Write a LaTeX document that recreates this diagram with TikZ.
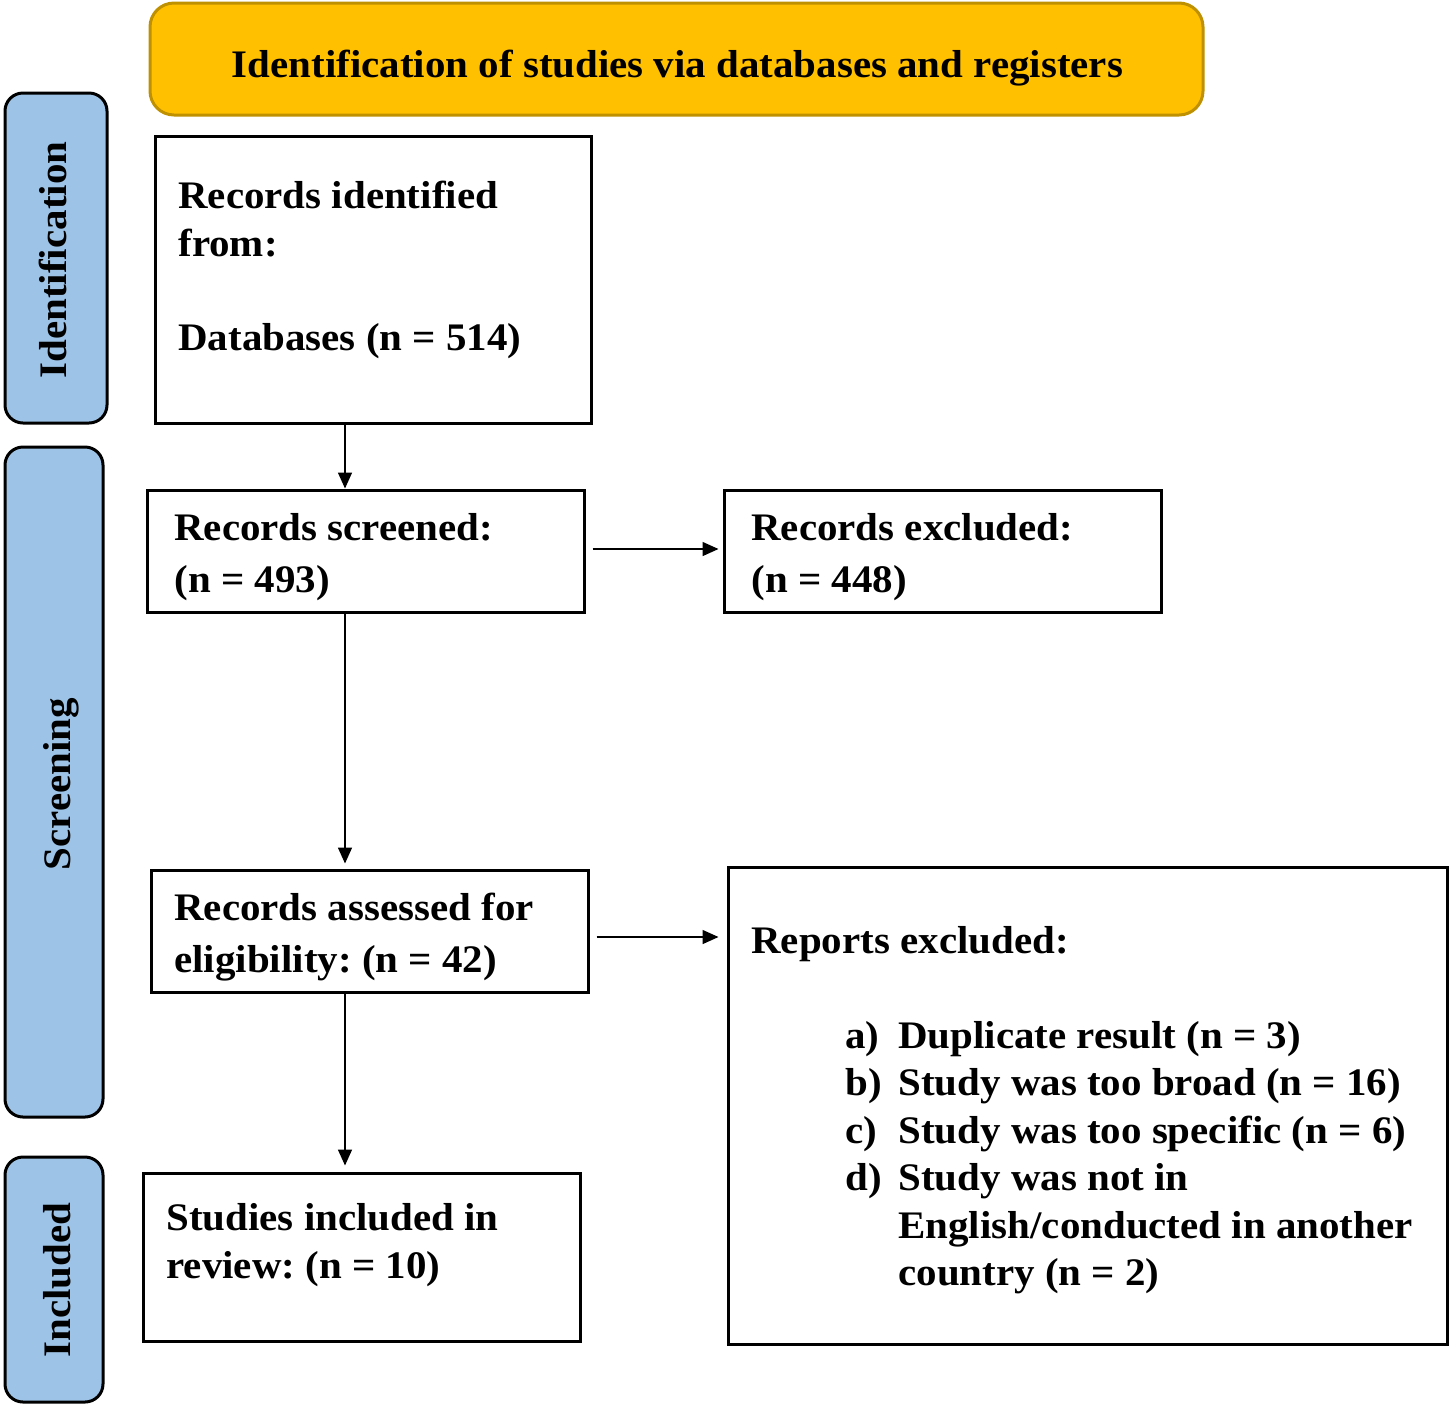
\documentclass[tikz,border=0pt]{standalone}
\usepackage{fontspec}
\setmainfont{Liberation Serif}[FakeStretch=1.05]
\usetikzlibrary{arrows.meta}
\definecolor{gold}{HTML}{FFC000}
\definecolor{golddark}{HTML}{BF9000}
\definecolor{sideblue}{HTML}{9DC3E6}
\frenchspacing
\tikzset{
  box/.style={draw=black, line width=1.5pt, fill=white, inner sep=0pt},
  sidebox/.style={draw=black, line width=1.5pt, fill=sideblue, rounded corners=9pt, inner sep=0pt},
  banner/.style={draw=golddark, line width=1.5pt, fill=gold, rounded corners=12pt, inner sep=0pt},
  txt/.style={anchor=base west, inner sep=0pt, font=\fontsize{19.5}{23.75}\selectfont\bfseries},
  ctxt/.style={anchor=base, inner sep=0pt, font=\fontsize{19.5}{23.75}\selectfont\bfseries},
  arr/.style={line width=0.75pt, -{Triangle[length=8pt,width=7pt]}}
}
\begin{document}
\begin{tikzpicture}[x=0.5pt, y=-0.5pt]
\useasboundingbox (0,0) rectangle (1449,1404);
% banner
\node[banner, minimum width=526.5pt, minimum height=56pt] (ban) at (676.5,59) {};
\node[ctxt] (bantxt) at (677.5,77) {Identification of studies via databases and registers};
% side labels
\node[sidebox, minimum width=51pt, minimum height=165pt] (sideI) at (56,258) {};
\node[ctxt, rotate=90] (sideItxt) at (66,260) {Identification};
\node[sidebox, minimum width=49pt, minimum height=335pt] (sideS) at (54,782) {};
\node[ctxt, rotate=90] (sideStxt) at (70,784) {Screening};
\node[sidebox, minimum width=49pt, minimum height=122.5pt] (sideN) at (54,1279.5) {};
\node[ctxt, rotate=90] (sideNtxt) at (70,1280) {Included};
% boxes
\node[box, minimum width=218pt, minimum height=143.5pt] (b1) at (373,279.5) {};
\node[txt] (b1a) at (178,208) {Records identified};
\node[txt] (b1b) at (178,256) {from:};
\node[txt] (b1c) at (178,350) {Databases (n = 514)};

\node[box, minimum width=218.5pt, minimum height=61pt] (scr) at (365.5,551) {};
\node[txt] (scra) at (174,540) {Records screened:};
\node[txt] (scrb) at (174,592) {(n = 493)};

\node[box, minimum width=218.5pt, minimum height=61pt] (exc) at (942.5,551) {};
\node[txt] (exca) at (751,540) {Records excluded:};
\node[txt] (excb) at (751,592) {(n = 448)};

\node[box, minimum width=218.5pt, minimum height=61pt] (asm) at (369.5,931) {};
\node[txt] (asma) at (174,920) {Records assessed for};
\node[txt] (asmb) at (174,972) {eligibility: (n = 42)};

\node[box, minimum width=359.5pt, minimum height=238.5pt] (rep) at (1087.5,1105.5) {};
\node[txt] (repa) at (751,953) {Reports excluded:};
\node[txt] (repla) at (845,1048) {a)};
\node[txt] (repia) at (898,1048) {Duplicate result (n = 3)};
\node[txt] (replb) at (845,1095) {b)};
\node[txt] (repib) at (898,1095) {Study was too broad (n = 16)};
\node[txt] (replc) at (845,1143) {c)};
\node[txt] (repic) at (898,1143) {Study was too specific (n = 6)};
\node[txt] (repld) at (845,1190) {d)};
\node[txt] (repid) at (898,1190) {Study was not in};
\node[txt] (repie) at (898,1238) {English/conducted in another};
\node[txt] (repif) at (898,1285) {country (n = 2)};

\node[box, minimum width=218.5pt, minimum height=84pt] (stu) at (361.5,1257) {};
\node[txt] (stua) at (166,1230) {Studies included in};
\node[txt] (stub) at (166,1278) {review: (n = 10)};
% connectors
\coordinate (ax) at (345,0);
\draw[arr] (b1.south -| ax) -- (scr.north -| ax);
\draw[arr, shorten <=3.5pt, shorten >=2pt] ([yshift=1pt]scr.east) -- ([yshift=1pt]exc.west);
\draw[arr, shorten >=2.5pt] (scr.south -| ax) -- (asm.north -| ax);
\draw[arr, shorten <=3.5pt, shorten >=4pt] ([yshift=-3pt]asm.east) -- ([yshift=-3pt]asm.east -| rep.west);
\draw[arr, shorten >=3pt] (asm.south -| ax) -- (stu.north -| ax);
\end{tikzpicture}
\end{document}
